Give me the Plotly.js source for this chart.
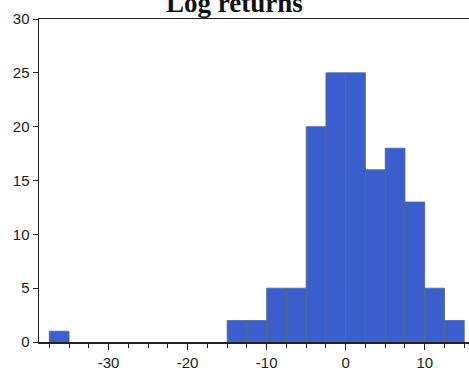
<!DOCTYPE html>
<html>
<head>
<meta charset="utf-8">
<script src="https://cdn.plot.ly/plotly-3.0.1.min.js"></script>
<style>html,body{margin:0;padding:0;background:#fff;}#chart{width:469px;height:372px;}</style>
</head>
<body>
<div id="chart"></div>
<script>
const binCenters = [-36.25, -13.75, -11.25, -8.75, -6.25, -3.75, -1.25, 1.25, 3.75, 6.25, 8.75, 11.25, 13.75];
const counts = [1, 2, 2, 5, 5, 20, 25, 25, 16, 18, 13, 5, 2];
const binWidth = 2.5;
const xTickVals = [-30, -20, -10, 0, 10];
const xTickText = ['-30', '-20', '-10', '0', '10'];
const yTickVals = [0, 5, 10, 15, 20, 25, 30];

const trace = {
  type: 'bar',
  x: binCenters,
  y: counts,
  width: binCenters.map(() => binWidth),
  marker: {color: '#3c5fcf', line: {color: 'rgba(85,105,115,0.8)', width: 1}},
  hoverinfo: 'x+y'
};

const layout = {
  width: 469, height: 372,
  margin: {l: 39, r: 0, t: 19, b: 30},
  paper_bgcolor: '#fff', plot_bgcolor: '#fff',
  showlegend: false,
  bargap: 0,
  title: {
    text: '<b>Log returns</b>',
    font: {family: 'Liberation Serif, Times New Roman, serif', size: 27, color: '#111'},
    x: 0.5, xanchor: 'center',
    y: 0.968, yanchor: 'bottom', yref: 'container'
  },
  xaxis: {
    range: [-38.8, 15.6],
    tickvals: xTickVals,
    ticktext: xTickText,
    ticks: 'outside', ticklen: 6, tickwidth: 1, tickcolor: '#222',
    minor: {dtick: 2.5, tick0: 0, ticks: 'outside', ticklen: 4, tickcolor: '#222', showgrid: false},
    showline: true, linecolor: '#222', linewidth: 1.5, mirror: true,
    showgrid: false, zeroline: false,
    tickfont: {family: 'Liberation Sans, Arial, sans-serif', size: 15, color: '#222'}
  },
  yaxis: {
    range: [0, 30],
    tickvals: yTickVals,
    ticks: 'outside', ticklen: 5, tickwidth: 1, tickcolor: '#222',
    showline: true, linecolor: '#222', linewidth: 1.5,
    showgrid: false, zeroline: false,
    tickfont: {family: 'Liberation Sans, Arial, sans-serif', size: 15, color: '#222'}
  }
};

Plotly.newPlot('chart', [trace], layout, {displayModeBar: false, staticPlot: true});
</script>
</body>
</html>
